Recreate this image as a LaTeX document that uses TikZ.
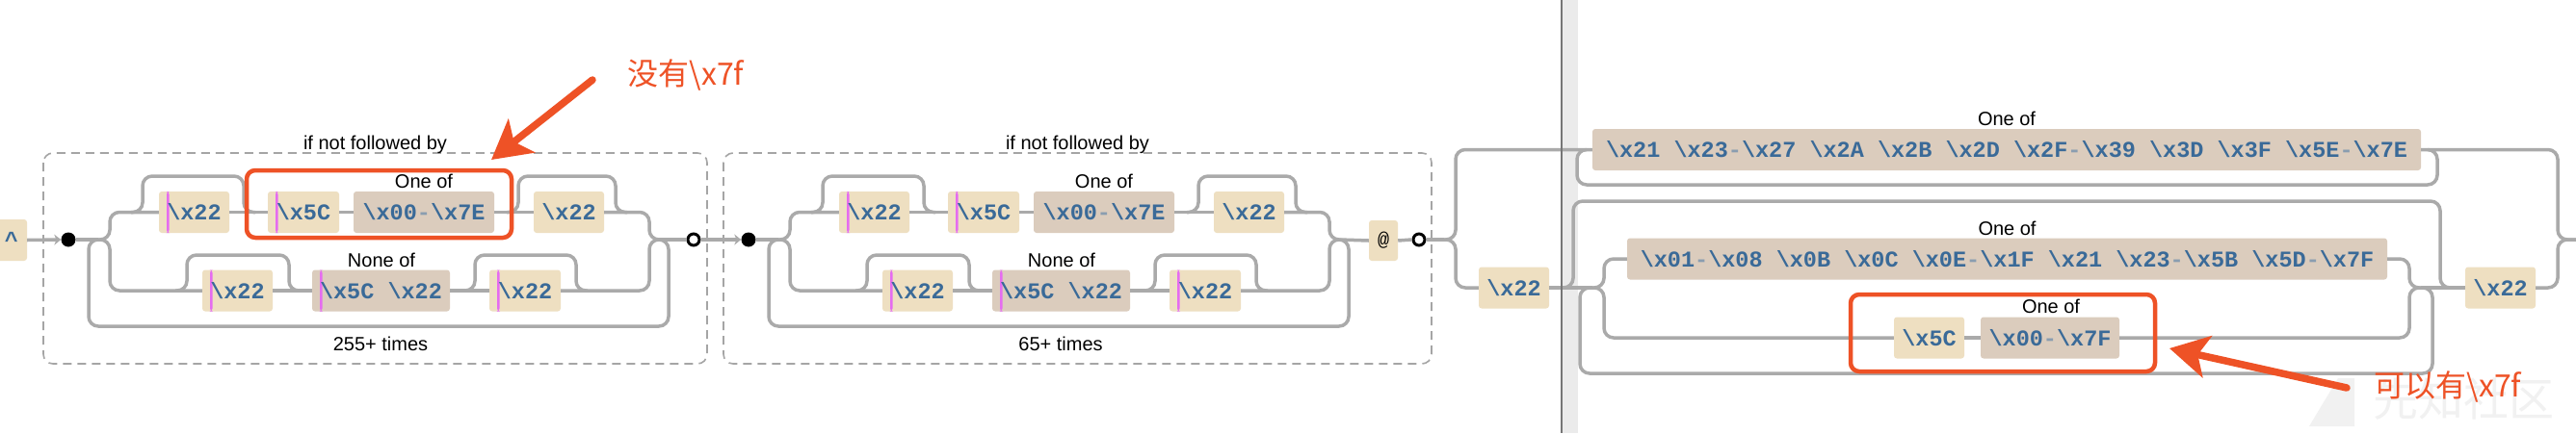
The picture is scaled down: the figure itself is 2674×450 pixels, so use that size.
\documentclass[tikz,border=0pt]{standalone}
\usepackage{fontspec}
\setmainfont{Liberation Sans}
\newfontfamily\rrmono{Liberation Mono}
\newfontfamily\cjk{Noto Sans CJK SC}
\usetikzlibrary{arrows.meta}
\definecolor{litc}{HTML}{EEDFC1}
\definecolor{csc}{HTML}{DBCCBD}
\definecolor{txc}{HTML}{3A6A98}
\definecolor{hyc}{HTML}{8A9DB0}
\definecolor{pkc}{HTML}{E56CF0}
\definecolor{lnc}{HTML}{AAAAAA}
\definecolor{dbc}{HTML}{A5A5A5}
\definecolor{redc}{HTML}{EE5226}
\definecolor{bandc}{HTML}{EBEBEB}
\definecolor{divc}{HTML}{767676}
\definecolor{wmc}{HTML}{F1F1F1}
\newcommand\rbs{\textbackslash}
\newcommand\rhy{{\color{hyc}-}}
\tikzset{
 rr/.style={draw=lnc, line width=3.5pt, rounded corners=10pt},
 lit/.style={fill=litc, rounded corners=3pt, minimum height=43pt, inner sep=0pt, text=txc, font=\rrmono\bfseries\fontsize{23.5}{26}\selectfont},
 cs/.style={lit, fill=csc},
 pk/.style={path picture={\fill[pkc] ([xshift=8pt]path picture bounding box.south west) rectangle ([xshift=10.5pt]path picture bounding box.north west);}},
 lbl/.style={font=\fontsize{20}{24}\selectfont, inner sep=0pt},
 startdot/.style={circle, fill=black, minimum size=15pt, inner sep=0pt},
 enddot/.style={circle, draw=black, fill=white, line width=3pt, minimum size=12pt, inner sep=0pt},
 dbox/.style={draw=dbc, line width=1.6pt, dash pattern=on 9pt off 6pt, rounded corners=10pt},
 redbox/.style={draw=redc, line width=4.5pt, rounded corners=9pt},
 redarrow/.style={draw=redc, line width=7.5pt, line cap=round, -{Stealth[length=40pt,width=44pt,inset=10pt]}},
 rnote/.style={text=redc, font=\cjk\fontsize{32}{36}\selectfont, inner sep=0pt},
 gtip/.style={-{Stealth[length=7pt,width=11pt]}}
}
\newcommand\rrgroup[3]{%
\begin{scope}[xshift=#2pt]
\node[startdot] (d#1) at (71,249) {};
\coordinate (s#1) at (102,249);
\coordinate (e#1) at (684,249);
\node[lit,pk,minimum width=73pt] (a1#1) at (201.5,220.5) {\rbs x22};
\node[lit,pk,minimum width=74pt] (a2#1) at (315,220.5) {\rbs x5C};
\node[cs,minimum width=146pt] (a3#1) at (440,220.5) {\rbs x00\rhy\rbs x7E};
\node[lit,minimum width=73pt] (a4#1) at (590.5,220.5) {\rbs x22};
\node[lit,pk,minimum width=73pt] (b1#1) at (246.5,302) {\rbs x22};
\node[cs,pk,minimum width=143pt] (b2#1) at (395.5,302) {\rbs x5C \rbs x22};
\node[lit,pk,minimum width=74pt] (b3#1) at (545,302) {\rbs x22};
\node[lbl] at (440,188) {One of};
\node[lbl] at (396,270) {None of};
\node[lbl] at (395,357) {#3};
\draw[rr] (d#1) -- (s#1);
% top branch
\draw[rr] (s#1) -- (114,249) -- (114,220.5) -- (a1#1.west);
\draw[rr] (a1#1.east) -- (a2#1.west);
\draw[rr] (a2#1.east) -- (a3#1.west);
\draw[rr] (a3#1.east) -- (a4#1.west);
\draw[rr] (a4#1.east) -- (674,220.5) -- (674,249) -- (e#1);
\draw[rr] (136,220.5) -- (148,220.5) -- (148,183) -- (253,183) -- (253,220.5) -- (265,220.5);
\draw[rr] (526,220.5) -- (538,220.5) -- (538,183) -- (639,183) -- (639,220.5) -- (651,220.5);
% bottom branch
\draw[rr] (s#1) -- (114,249) -- (114,302) -- (b1#1.west);
\draw[rr] (b1#1.east) -- (b2#1.west);
\draw[rr] (b2#1.east) -- (b3#1.west);
\draw[rr] (b3#1.east) -- (674,302) -- (674,249) -- (e#1);
\draw[rr] (182,302) -- (194,302) -- (194,265) -- (300,265) -- (300,302) -- (312,302);
\draw[rr] (481,302) -- (493,302) -- (493,265) -- (598,265) -- (598,302) -- (610,302);
% repeat loop
\draw[rr] (s#1) -- (92,249) -- (92,339) -- (694,339) -- (694,249) -- (e#1);
\end{scope}}

\begin{document}
\begin{tikzpicture}[x=1pt,y=-1pt]
\useasboundingbox (0,0) rectangle (2674,450);
\fill[white] (0,0) rectangle (2674,450);
\fill[bandc] (1622,0) rectangle (1638,450);

% dashed lookahead boxes
\draw[dbox] (45,159) rectangle (734,378);
\draw[dbox] (751,159) rectangle (1486,378);
\node[lbl] at (389.5,150) {if not followed by};
\node[lbl] at (1118.5,150) {if not followed by};

\node[lit,minimum width=32pt] (caret) at (12,249.5) {\textasciicircum};

\rrgroup{1}{0}{255+ times}
\rrgroup{2}{706}{65+ times}

\node[enddot] (c1) at (720,249) {};
\draw[rr,gtip] (caret.east) -- (d1.west);
\draw[rr] (e1) -- (c1.west);
\draw[rr,gtip] (c1.east) -- (d2.west);

\node[lit,minimum width=30pt,minimum height=42pt,text=black,font=\rrmono\fontsize{20}{24}\selectfont] (at) at (1436,250) {@};
\node[enddot] (c2) at (1473,249) {};
\draw[rr] (e2) -- (at.west);
\draw[rr] (at.east) -- (c2.west);

% right part
\coordinate (s3) at (1499,249);
\node[cs,minimum width=860pt] (k1) at (2083,155.5) {\rbs x21 \rbs x23\rhy\rbs x27 \rbs x2A \rbs x2B \rbs x2D \rbs x2F\rhy\rbs x39 \rbs x3D \rbs x3F \rbs x5E\rhy\rbs x7E};
\node[lbl] at (2083,123) {One of};
\node[lit,minimum width=73pt] (x1) at (1571.5,299) {\rbs x22};
\node[cs,minimum width=789pt] (k2) at (2083.5,269) {\rbs x01\rhy\rbs x08 \rbs x0B \rbs x0C \rbs x0E\rhy\rbs x1F \rbs x21 \rbs x23\rhy\rbs x5B \rbs x5D\rhy\rbs x7F};
\node[lbl] at (2083.5,237) {One of};
\node[lit,minimum width=73pt] (y1) at (2002.5,351) {\rbs x5C};
\node[cs,minimum width=144pt] (y2) at (2128,351) {\rbs x00\rhy\rbs x7F};
\node[lbl] at (2129,318) {One of};
\node[lit,minimum width=73pt] (x2) at (2595.5,299) {\rbs x22};

\draw[rr] (c2.east) -- (s3);
\draw[rr] (s3) -- (1511,249) -- (1511,155.5) -- (k1.west);
\draw[rr] (s3) -- (1511,249) -- (1511,299) -- (x1.west);
\draw[rr] (1647,155.5) -- (1637,155.5) -- (1637,192) -- (2530,192) -- (2530,155.5) -- (2520,155.5);
\draw[rr] (k1.east) -- (2655,155.5) -- (2655,249) -- (2680,249);

\coordinate (s4) at (1653,299);
\coordinate (e4) at (2513,299);
\draw[rr] (x1.east) -- (s4);
\draw[rr] (1621,299) -- (1633,299) -- (1633,209) -- (2533,209) -- (2533,299) -- (2545,299);
\draw[rr] (1650,299) -- (1640,299) -- (1640,388) -- (2525,388) -- (2525,299) -- (2515,299);
\draw[rr] (s4) -- (1665,299) -- (1665,269) -- (k2.west);
\draw[rr] (s4) -- (1665,299) -- (1665,351) -- (y1.west);
\draw[rr] (y1.east) -- (y2.west);
\draw[rr] (k2.east) -- (2501,269) -- (2501,299) -- (e4);
\draw[rr] (y2.east) -- (2501,351) -- (2501,299) -- (e4);
\draw[rr] (e4) -- (x2.west);
\draw[rr] (x2.east) -- (2655,299) -- (2655,249) -- (2680,249);

% window divider
\draw[divc,line width=2pt] (1621,0) -- (1621,450);

% faint watermark
\fill[wmc] (2397,443) -- (2427,393) -- (2444,393) -- (2444,443) -- cycle;
\node[font=\cjk\fontsize{47}{50}\selectfont, text=wmc, inner sep=0pt] (wm) at (2557,415) {先知社区};

% annotations
\draw[redbox] (256,177) rectangle (531,247);
\draw[redbox] (1921,306) rectangle (2237,386);
\node[rnote] (n1) at (712,78) {没有\rbs x7f};
\node[rnote] (n2) at (2541,402) {可以有\rbs x7f};
\coordinate (t1) at (615,83);
\coordinate (p1) at (510,166);
\coordinate (t2) at (2436,403);
\coordinate (p2) at (2252,362);
\draw[redarrow] (t1) -- (p1);
\draw[redarrow] (t2) -- (p2);
\end{tikzpicture}
\end{document}
